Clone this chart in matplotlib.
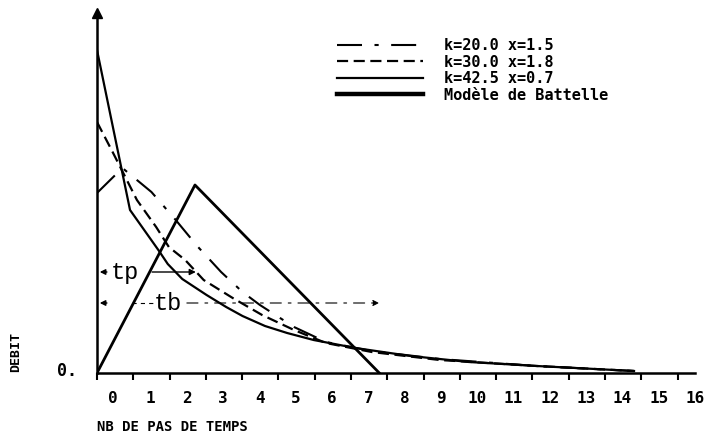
import matplotlib
matplotlib.use("Agg")
import matplotlib.pyplot as plt
from matplotlib.lines import Line2D

plt.rcParams['lines.scale_dashes'] = False

# ---- data (time steps, discharge in arbitrary units) ----
t_k20 = [0, 0.70, 1.50, 2.17, 2.76, 3.42, 4.01, 4.49, 5.43, 6.31, 7.57, 9.44, 12.12, 14.8]
q_k20 = [180, 205, 181, 153, 127, 101, 81, 68, 46, 31, 22, 14, 7, 2]

t_k30 = [0, 0.43, 0.64, 1.10, 1.63, 1.98, 2.43, 2.94, 3.74, 4.55, 5.43, 6.31, 7.57, 9.44, 12.12, 14.8]
q_k30 = [251, 221, 206, 173, 146, 126, 113, 93, 75, 58, 43, 30, 21, 13, 7, 2]

t_k42 = [0, 0.91, 1.71, 1.95, 2.35, 3.02, 3.56, 4.01, 4.63, 5.24, 5.97, 7.12, 8.64, 10.25, 12.12, 14.8]
q_k42 = [323, 163, 122, 109, 94, 78, 66, 57, 47, 40, 33, 25, 17, 11, 7, 2]

t_batt = [0, 2.70, 7.78]
q_batt = [0, 188, 0]

labels = ["k=20.0 x=1.5", "k=30.0 x=1.8", "k=42.5 x=0.7", "Modèle de Battelle"]

tick_values = list(range(17))
tick_labels = [str(i) for i in tick_values]

tp_level = 101
tb_level = 70

W, H = 727, 436
fig = plt.figure(figsize=(W / 100, H / 100), dpi=100)
ax = fig.add_axes([97 / W, (H - 373) / H, (695 - 97) / W, (373 - 13) / H])
ax.set_xlim(0, 16)
ax.set_ylim(0, 360)

mono = 'DejaVu Sans Mono'

l1, = ax.plot(t_k20, q_k20, color='black', lw=1.5, linestyle=(0, (18, 9, 3, 9)), label=labels[0])
l2, = ax.plot(t_k30, q_k30, color='black', lw=1.6, linestyle=(0, (8, 4)), label=labels[1])
l3, = ax.plot(t_k42, q_k42, color='black', lw=1.6, label=labels[2])
l4, = ax.plot(t_batt, q_batt, color='black', lw=2.0, label=labels[3])

# spines
for s in ['top', 'right']:
    ax.spines[s].set_visible(False)
ax.spines['left'].set_linewidth(1.8)
ax.spines['bottom'].set_linewidth(1.8)
ax.plot([0], [1], marker='^', color='black', markersize=7, transform=ax.transAxes, clip_on=False)

# ticks: marks at integers, labels between
ax.set_xticks([v + 0.48 if v > 0 else 0.43 for v in tick_values])
ax.set_xticklabels(tick_labels, fontfamily=mono, fontweight='bold', fontsize=11.5)
ax.tick_params(axis='x', which='major', length=0, pad=13)
ax.set_xticks(tick_values, minor=True)
ax.tick_params(axis='x', which='minor', length=5, width=1.5, direction='out')
ax.set_yticks([])

# annotations tp / tb
ax.annotate('', xy=(0, tp_level), xytext=(0.35, tp_level),
            arrowprops=dict(arrowstyle='-|>', color='black', lw=1.0, mutation_scale=8))
ax.text(0.78, tp_level, 'tp', family='Liberation Mono', fontsize=17, ha='center', va='center')
ax.annotate('', xy=(2.80, tp_level), xytext=(1.44, tp_level),
            arrowprops=dict(arrowstyle='-|>', color='black', lw=1.0, mutation_scale=9))

ax.annotate('', xy=(0, tb_level), xytext=(0.35, tb_level),
            arrowprops=dict(arrowstyle='-|>', color='black', lw=1.0, mutation_scale=8))
ax.plot([0.97, 1.55], [tb_level, tb_level], color='black', lw=0.8, linestyle=(0, (3, 3)))
ax.text(1.96, tb_level, 'tb', family='Liberation Mono', fontsize=17, ha='center', va='center')
ax.annotate('', xy=(7.85, tb_level), xytext=(2.40, tb_level),
            arrowprops=dict(arrowstyle='-|>', color='black', lw=0.8, mutation_scale=9,
                            linestyle=(0, (8, 5, 2, 5))))

# legend
leg = ax.legend(handles=[l1, l2, l3, l4], loc='upper left',
                bbox_to_anchor=(337 / W, 1 - 38 / H), bbox_transform=fig.transFigure,
                frameon=False, borderpad=0, borderaxespad=0, handlelength=5.6,
                handletextpad=1.4, labelspacing=0.1,
                prop=dict(family=mono, weight='bold', size=11))
leg.get_lines()[3].set_linewidth(3.2)

# axis texts
fig.text(97 / W, 1 - 427 / H, 'NB DE PAS DE TEMPS', family=mono, weight='bold', fontsize=10,
         ha='left', va='center')
fig.text(77 / W, 1 - 371 / H, '0.', family=mono, weight='bold', fontsize=12, ha='right', va='center')
fig.text(16 / W, 1 - 352 / H, 'DEBIT', family=mono, weight='bold', fontsize=9.5, rotation=90,
         ha='center', va='center')

fig.savefig('out.png', dpi=100)
